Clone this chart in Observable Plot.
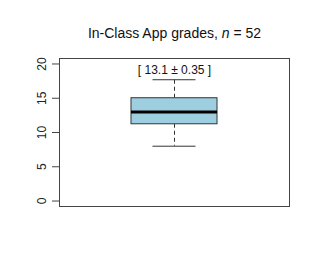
<!DOCTYPE html>
<html>
<head>
<meta charset="utf-8">
<script src="https://cdn.jsdelivr.net/npm/d3@7"></script>
<script src="https://cdn.jsdelivr.net/npm/@observablehq/plot@0.6"></script>
<style>
  html, body { margin: 0; padding: 0; background: #fff; }
  svg { display: block; }
</style>
</head>
<body>
<div id="chart"></div>
<script>
// ---- data ----
const groups = ["In-Class App"];
const whiskerLow = [8];
const quartile1 = [11.2];
const medians = [13];
const quartile3 = [15];
const whiskerHigh = [17.7];
const meanLabels = ["[ 13.1 ± 0.35 ]"];
const sampleSize = 52;
const yTicks = [0, 5, 10, 15, 20];

const rows = groups.map((g, i) => ({
  group: g, pos: i + 1,
  lo: whiskerLow[i], q1: quartile1[i], med: medians[i],
  q3: quartile3[i], hi: whiskerHigh[i], label: meanLabels[i]
}));

const boxHalf = 0.187;
const capHalf = 0.0935;
const font = "'Liberation Sans', Arial, Helvetica, sans-serif";
const titleText = `${groups[0]} grades, n = ${sampleSize}`;

const plot = Plot.plot({
  width: 320,
  height: 280,
  marginLeft: 59,
  marginRight: 31,
  marginTop: 58,
  marginBottom: 74,
  style: { fontFamily: font, background: "#fff", color: "#000" },
  x: { domain: [0.5, 1.5], axis: null },
  y: { domain: [-0.8, 20.8] },
  marks: [
    Plot.axisY({
      ticks: yTicks, tickSize: 7, tickPadding: 7, tickRotate: -90,
      fontSize: 12, label: null, stroke: "#444", fill: "#222"
    }),
    Plot.ruleX(rows, { x: "pos", y1: "q3", y2: "hi", stroke: "#333", strokeDasharray: "4,3" }),
    Plot.ruleX(rows, { x: "pos", y1: "q1", y2: "lo", stroke: "#333", strokeDasharray: "4,3" }),
    Plot.ruleY(rows, { y: "hi", x1: d => d.pos - capHalf, x2: d => d.pos + capHalf, stroke: "#333" }),
    Plot.ruleY(rows, { y: "lo", x1: d => d.pos - capHalf, x2: d => d.pos + capHalf, stroke: "#333" }),
    Plot.rect(rows, { x1: d => d.pos - boxHalf, x2: d => d.pos + boxHalf, y1: "q1", y2: "q3", fill: "#9ecfe1", stroke: "#333" }),
    Plot.ruleY(rows, { y: "med", x1: d => d.pos - boxHalf, x2: d => d.pos + boxHalf, stroke: "#000", strokeWidth: 3 }),
    Plot.text(rows, { x: "pos", y: "hi", text: "label", dy: -6, lineAnchor: "bottom", fontSize: 12, fill: "#111" }),
    Plot.text([titleText], { text: d => d, frameAnchor: "top", dy: -21, lineAnchor: "bottom", fontSize: 14, fill: "#111" }),
    Plot.frame({ stroke: "#444" })
  ]
});

// italicise the "n" in the title
plot.querySelectorAll("text").forEach(t => {
  if (t.textContent === titleText) {
    t.textContent = "";
    const ns = "http://www.w3.org/2000/svg";
    const a = document.createElementNS(ns, "tspan"); a.textContent = `${groups[0]} grades, `;
    const b = document.createElementNS(ns, "tspan"); b.textContent = "n"; b.setAttribute("font-style", "italic");
    const c = document.createElementNS(ns, "tspan"); c.textContent = ` = ${sampleSize}`;
    t.append(a, b, c);
  }
});

document.getElementById("chart").append(plot);
</script>
</body>
</html>
